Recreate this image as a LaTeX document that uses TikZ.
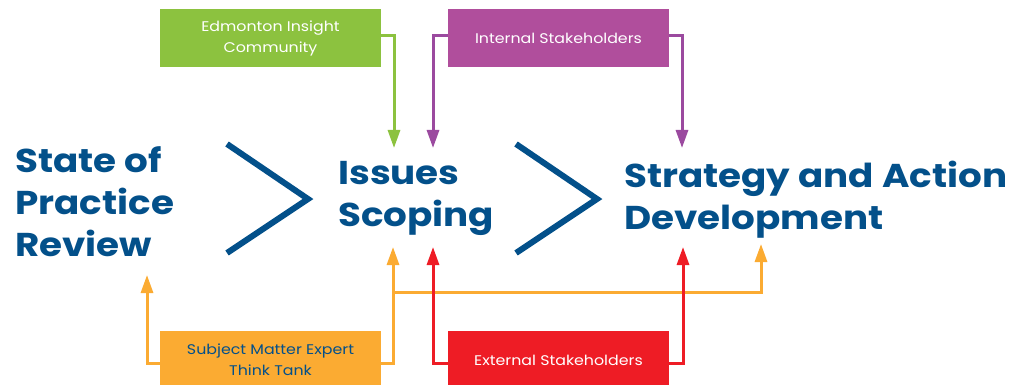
\documentclass[tikz,border=0pt]{standalone}
\usepackage{xcolor}
\usepackage{fontspec}
\setmainfont[FakeStretch=1.13]{Poppins}
\usepackage{tikz}
\usetikzlibrary{arrows.meta,positioning,calc}

\definecolor{edmblue}{HTML}{03508A}
\definecolor{eicgreen}{HTML}{8CC23F}
\definecolor{intpurple}{HTML}{B04E9C}
\definecolor{intline}{HTML}{9B4A9F}
\definecolor{smeorange}{HTML}{FBAB32}
\definecolor{extred}{HTML}{EE1C25}

\tikzset{
    srcbox/.style={rectangle, minimum width=221pt, minimum height=58pt, inner sep=0pt, align=center, font=\fontsize{14}{21}\selectfont},
    stage/.style={anchor=north west, inner sep=0pt, align=left, text=edmblue, font=\fontsize{33}{42}\selectfont\bfseries},
    feed/.style={line width=3pt, ->},
}

\begin{document}
\begin{tikzpicture}[x=1pt, y=-1pt, >={Triangle[length=18pt, width=12pt]}]
    \useasboundingbox (0,0) rectangle (1014,385);
    % stages
    \node[stage] (sopr) at (15,146) {State of\\Practice\\Review};
    \node[stage] (issc) at (338,161) {Issues\\Scoping};
    \node[stage] (sadv) at (624,161) {Strategy and Action\\Development};
    \draw[line width=6pt, edmblue] (227,144) -- (308,199) -- (227,253);
    \draw[line width=6pt, edmblue] (516,144) -- (597,199) -- (516,253);
    % sources
    \node[srcbox, fill=eicgreen, text=white] (eic) at (270.5,38) {Edmonton Insight\\Community};
    \node[srcbox, fill=intpurple, text=white] (int) at (558.5,38) {Internal Stakeholders};
    \node[srcbox, fill=smeorange, text=edmblue] (sme) at (270.5,360) {Subject Matter Expert\\Think Tank};
    \node[srcbox, fill=extred, text=white] (ext) at (558.5,360) {External Stakeholders};
    % arrow ends
    \coordinate (eic-in) at (394,148);
    \coordinate (int-in) at (433,148);
    \coordinate (int-out) at (682,148);
    \coordinate (sme-sopr) at (147,275);
    \coordinate (sme-in) at (393,247);
    \coordinate (sme-out) at (761,244);
    \coordinate (ext-in) at (433,247);
    \coordinate (ext-out) at (683,247);
    \coordinate (sme-split) at (393,292);
    % feeds
    \draw[feed, eicgreen] (eic.east |- 0,36) -| (eic-in);
    \draw[feed, intline] (int.west |- 0,36) -| (int-in);
    \draw[feed, intline] (int.east |- 0,36) -| (int-out);
    \draw[feed, smeorange] (sme.west |- 0,363) -| (sme-sopr);
    \draw[feed, smeorange] (sme.east |- 0,363) -| (sme-in);
    \draw[feed, smeorange] (sme-split) -| (sme-out);
    \draw[feed, extred] (ext.west |- 0,363) -| (ext-in);
    \draw[feed, extred] (ext.east |- 0,363) -| (ext-out);
\end{tikzpicture}
\end{document}
